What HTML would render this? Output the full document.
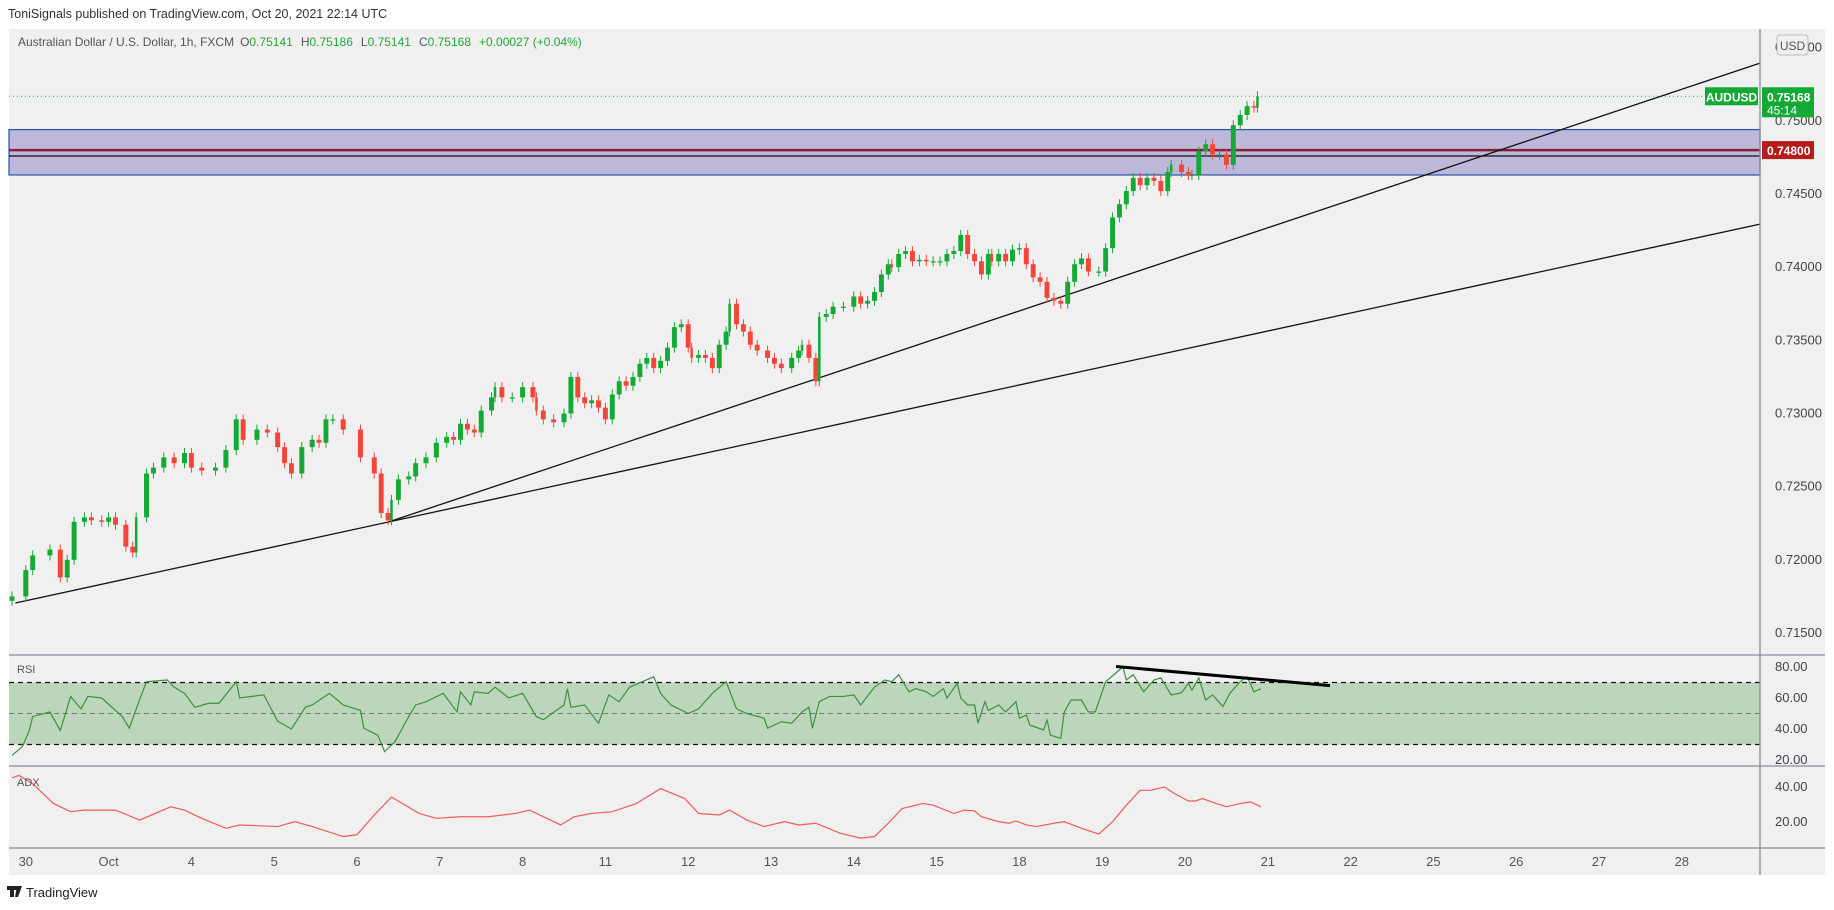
<!DOCTYPE html>
<html><head><meta charset="utf-8">
<style>
body{margin:0;background:#fff;width:1834px;height:910px;overflow:hidden;font-family:"Liberation Sans",sans-serif}
svg{position:absolute;left:0;top:0}
</style></head>
<body>
<svg id="c" width="1834" height="910" xmlns="http://www.w3.org/2000/svg">
<text x="8" y="18" font-size="12.5" fill="#333">ToniSignals published on TradingView.com, Oct 20, 2021 22:14 UTC</text>
<rect x="9" y="29" width="1816" height="846" fill="#f0f0f0"/>
<g id="band"></g>
<g id="trend"></g>
<g id="candles"></g>
<g id="rsi"></g>
<g id="adx"></g>
<g id="axes"></g>
<text x="18" y="46" font-size="12" fill="#555">Australian Dollar / U.S. Dollar, 1h, FXCM<tspan dx="6" fill="#555">O</tspan><tspan fill="#22a838">0.75141</tspan><tspan dx="8" fill="#555">H</tspan><tspan fill="#22a838">0.75186</tspan><tspan dx="8" fill="#555">L</tspan><tspan fill="#22a838">0.75141</tspan><tspan dx="8" fill="#555">C</tspan><tspan fill="#22a838">0.75168</tspan><tspan dx="8" fill="#22a838">+0.00027 (+0.04%)</tspan></text>
<text x="17" y="673" font-size="11" fill="#555">RSI</text>
<text x="17" y="786" font-size="11" fill="#555">ADX</text>
<g><rect x="7" y="886" width="10" height="4" fill="#222"/><rect x="10" y="886" width="4" height="11" fill="#222"/><polygon points="17,886 22,886 18,897 15,897" fill="#222"/><text x="26" y="897" font-size="13" fill="#222">TradingView</text></g>
</svg>
<script>
const priceHours=[0,4,6,11,14,16,18,21,23,26,28,30,33,35,36,39,41,44,47,50,52,55,59,62,65,67,71,74,77,79,81,84,87,89,91,93,96,101,105,107,109,110,112,115,117,120,123,126,128,130,132,134,136,139,140,142,145,148,151,152,154,157,160,162,164,166,168,170,172,174,176,178,180,182,184,186,188,190,192,194,196,197,199,201,203,205,207,208,210,212,214,216,219,221,223,226,228,229,231,233,234,236,238,241,244,246,248,250,252,254,255,257,259,261,263,265,267,269,271,273,275,277,279,281,283,284,286,288,290,292,294,296,298,300,302,304,306,308,310,312,315,317,319,321,323,325,327,329,331,333,335,336,339,341,342,344,346,348,350,352,354,356,358,360,361];
const priceClose=[.7175,.7193,.7203,.7207,.7188,.7200,.7226,.7229,.7227,.7226,.7229,.7224,.7209,.7205,.7229,.7259,.7263,.7270,.7266,.7273,.7263,.7261,.7263,.7275,.7296,.7282,.7289,.7287,.7277,.7266,.7259,.7277,.7282,.7280,.7296,.7296,.7289,.7270,.7259,.7232,.7227,.7241,.7255,.7257,.7266,.7270,.7280,.7284,.7282,.7293,.7289,.7287,.7302,.7311,.7318,.7311,.7311,.7318,.7311,.7302,.7296,.7294,.7300,.7325,.7311,.7307,.7309,.7304,.7296,.7313,.7322,.7319,.7325,.7334,.7338,.7331,.7336,.7345,.7359,.7361,.7345,.7338,.7340,.7338,.7331,.7347,.7356,.7375,.7361,.7356,.7347,.7343,.7338,.7334,.7331,.7338,.7343,.7347,.7338,.7322,.7366,.7368,.7373,.7373,.7380,.7375,.7377,.7383,.7395,.7402,.7400,.7409,.7411,.7404,.7405,.7404,.7404,.7404,.7409,.7411,.7422,.7409,.7404,.7395,.7409,.7404,.7409,.7404,.7412,.7413,.7402,.7393,.7390,.7379,.7377,.7375,.7390,.7402,.7406,.7397,.7397,.7413,.7434,.7443,.7452,.7461,.7456,.7461,.7459,.7452,.7465,.7470,.7465,.7463,.7463,.7479,.7484,.7477,.7477,.7470,.7497,.7504,.7510,.7509,.75168];
const rsiHours=[0,3,5,6,11,14,17,20,22,26,32,34,37,39,45,47,50,53,57,60,65,66,73,77,81,85,87,92,96,101,102,106,108,111,115,117,120,125,129,130,133,134,138,140,144,148,152,154,160,161,162,166,170,173,176,179,186,188,191,196,199,203,207,210,213,218,219,223,226,229,231,232,234,237,241,244,246,250,253,255,257,260,262,265,267,270,271,274,275,277,279,280,282,283,286,288,291,292,294,295,299,300,301,304,305,307,310,312,314,317,322,323,325,328,331,333,336,339,341,342,344,346,348,351,353,356,358,360,362];
const rsiValues=[23,28.6,39,48,51,39,61,53,61,60,48,40.5,59,70.5,71.6,67,63,54,56.6,56.6,70.5,60,62,45,40,54,55.5,63,55.5,52,40.5,36,25.4,31.8,48,55.5,57.6,63,51,64,55.5,64,63,67,60,63,48,46,55.5,66,54,55.5,43.7,62,57.6,67,73.7,63,55.5,50,53,63,70.5,53,50,47,40.5,44.7,43.7,51,54,40.5,57.6,61,61,62,55.5,67,71.6,70.5,75,64,66,64,61,66,60,69.5,60,55.5,55.5,43.7,57.6,52,55.5,51,57.6,47,49,42.6,39.4,45.8,36,34,51,58.7,58.7,51,51,70.5,80,71.6,75,64,71.6,73,62,63.4,69.5,65,73,58.7,62,54.4,63,70.5,73.7,64,66];
const adxHours=[0,2,6,12,17,21,30,37,46,50,55,62,66,77,82,87,96,100,105,110,118,123,130,138,146,150,159,163,168,174,181,188,195,199,205,208,213,218,224,228,233,240,246,250,254,258,264,267,273,276,279,281,286,289,291,294,297,302,305,310,315,319,323,327,330,334,337,341,343,345,349,352,356,359,362];
const adxValues=[45.2,46.6,41.9,30.6,25.9,26.8,26.8,21.1,28.7,26.8,22.1,16.4,18.3,17.4,20.2,17.4,11.7,12.7,24.0,34.3,24.9,22.1,23.0,23.0,24.9,26.8,18.3,23.0,24.9,25.9,30.6,39.1,33.4,24.9,24.0,26.8,21.1,17.4,20.2,18.3,19.3,13.6,10.8,11.7,19.3,27.7,30.6,29.6,24.9,26.8,26.3,23.0,20.2,19.3,20.6,18.3,17.4,19.3,20.2,16.4,13.1,20.2,29.6,38.1,38.1,40.0,36.2,32.0,32.0,33.4,30.6,28.7,30.6,31.5,28.7];
const priceTicks=[0.755,0.750,0.745,0.740,0.735,0.730,0.725,0.720,0.715];
const dayLabels=["30","Oct","4","5","6","7","8","11","12","13","14","15","18","19","20","21","22","25","26","27","28"];
const zoneTop=0.7494, zoneBottom=0.7463, resistance=0.7480, resistance2=0.7477, lastPrice=0.75168;
const trendA=[[1,0.71705],[109,0.72258]];
const trendB=[[109,0.72258],[304,0.73796]];
const rsiDiv=[[320,80.3],[382,68]];

const NS="http://www.w3.org/2000/svg";
const L=9,R=1760;
const X=h=>12+h*3.45;
const Y=p=>194+(0.745-p)*14633;
const RY=v=>713.5-(v-50)*1.55;
const AY=v=>787-(v-40)*1.75;
function el(tag,attrs,parent,name,inter){const e=document.createElementNS(NS,tag);for(const k in attrs)e.setAttribute(k,attrs[k]);


parent.appendChild(e);return e;}
const g=id=>document.getElementById(id);

const band=g('band');
el('rect',{x:L,y:Y(zoneTop),width:R-L,height:Y(zoneBottom)-Y(zoneTop),fill:'#bdb7d9',stroke:'#2a52a8','stroke-width':1.2},band,'zone-rect','true');
el('line',{x1:L,x2:R,y1:Y(resistance),y2:Y(resistance),stroke:'#8a1c3c','stroke-width':2.5},band,'resistance-line','true');
el('line',{x1:L,x2:R,y1:Y(resistance2)+1.5,y2:Y(resistance2)+1.5,stroke:'#111','stroke-width':1.3},band,'resistance-line-2','true');
el('line',{x1:L,x2:R,y1:Y(lastPrice),y2:Y(lastPrice),stroke:'#22a838','stroke-width':1,'stroke-dasharray':'1 3'},band,'last-price-line','false');

const tr=g('trend');
function ext(a,name){const x1=X(a[0][0]),y1=Y(a[0][1]),x2=X(a[1][0]),y2=Y(a[1][1]);const s=(y2-y1)/(x2-x1);
el('line',{x1:x1,y1:y1,x2:R,y2:y1+s*(R-x1),stroke:'#111','stroke-width':1.3},tr,name,'true');}
ext(trendA,'trendline-lower');ext(trendB,'trendline-upper');

const cg=g('candles');
for(let i=0;i<priceClose.length;i++){
 const c=priceClose[i],o=i?priceClose[i-1]:c-0.0003;
 const up=c>=o,col=up?'#13a935':'#f4453b';
 const x=X(priceHours[i]);
 const gap=i?priceHours[i]-priceHours[i-1]:2;
 const w=Math.max(2.5,Math.min(5,gap*3.45-2));
 const yt=Y(Math.max(o,c)),yb=Y(Math.min(o,c));
 el('line',{x1:x,x2:x,y1:yt-5,y2:yb+5,stroke:col,'stroke-width':1},cg,'candle-wick','false');
 el('rect',{x:x-w/2,y:yt,width:w,height:Math.max(1.2,yb-yt),fill:col},cg,'candle-body','false');
}

const rg=g('rsi');
el('rect',{x:L,y:RY(70),width:R-L,height:RY(30)-RY(70),fill:'#bcd6bc'},rg,'rsi-band','false');
[70,30].forEach(v=>el('line',{x1:L,x2:R,y1:RY(v),y2:RY(v),stroke:'#111','stroke-dasharray':'5 4','stroke-width':1.2},rg,'rsi-bound-'+v,'false'));
el('line',{x1:L,x2:R,y1:RY(50),y2:RY(50),stroke:'#777','stroke-dasharray':'5 4','stroke-width':1},rg,'rsi-mid','false');
el('polyline',{points:rsiValues.map((v,i)=>X(rsiHours[i])+','+RY(v)).join(' '),fill:'none',stroke:'#3f8f3f','stroke-width':1.2},rg,'rsi-line','false');
el('line',{x1:X(rsiDiv[0][0]),y1:RY(rsiDiv[0][1]),x2:X(rsiDiv[1][0]),y2:RY(rsiDiv[1][1]),stroke:'#000','stroke-width':3},rg,'rsi-divergence-line','true');

const ag=g('adx');
el('polyline',{points:adxValues.map((v,i)=>X(adxHours[i])+','+AY(v)).join(' '),fill:'none',stroke:'#f25a5a','stroke-width':1.2},ag,'adx-line','false');

const ax=g('axes');
el('rect',{x:1825,y:29,width:9,height:846,fill:'#fff'},ax,'right-margin','false');
el('line',{x1:R,x2:R,y1:29,y2:875,stroke:'#8a8a96','stroke-width':1.3},ax,'price-axis-border','false');
[655,766,848].forEach(y=>el('line',{x1:L,x2:1825,y1:y,y2:y,stroke:'#8a8a96','stroke-width':1.3},ax,'pane-separator','false'));
priceTicks.forEach(p=>{const t=el('text',{x:1775,y:Y(p)+4,'font-size':13,fill:'#444'},ax,'price-tick','false');t.textContent=p.toFixed(5);});
[80,60,40,20].forEach(v=>{const t=el('text',{x:1775,y:RY(v)+4,'font-size':13,fill:'#444'},ax,'rsi-tick','false');t.textContent=v.toFixed(2);});
[40,20].forEach(v=>{const t=el('text',{x:1775,y:AY(v)+4,'font-size':13,fill:'#444'},ax,'adx-tick','false');t.textContent=v.toFixed(2);});
dayLabels.forEach((d,i)=>{const t=el('text',{x:X(4+24*i),y:866,'font-size':13,fill:'#555','text-anchor':'middle'},ax,'time-tick','false');t.textContent=d;});
el('rect',{x:1777,y:35,width:31,height:20,rx:3,fill:'#f0f0f0',stroke:'#bbb'},ax,'currency-box','true');
const usd=el('text',{x:1792.5,y:50,'font-size':12,fill:'#555','text-anchor':'middle'},ax,'currency-label','false');usd.textContent='USD';
el('rect',{x:1705,y:Y(lastPrice)-9,width:53,height:18,fill:'#13a935'},ax,'symbol-label-box','false');
const sl=el('text',{x:1731.5,y:Y(lastPrice)+5,'font-size':12,'font-weight':'bold',fill:'#fff','text-anchor':'middle'},ax,'symbol-label','false');sl.textContent='AUDUSD';
el('rect',{x:1762,y:Y(lastPrice)-9,width:52,height:30,fill:'#13a935'},ax,'last-price-box','false');
const lp=el('text',{x:1767,y:Y(lastPrice)+5,'font-size':12,'font-weight':'bold',fill:'#fff'},ax,'last-price-label','false');lp.textContent=lastPrice.toFixed(5);
const cd=el('text',{x:1767,y:Y(lastPrice)+18,'font-size':12,fill:'#fff'},ax,'countdown-label','false');cd.textContent='45:14';
el('rect',{x:1762,y:Y(resistance)-9,width:52,height:18,fill:'#b71c1c'},ax,'resistance-price-box','false');
const rl=el('text',{x:1767,y:Y(resistance)+5,'font-size':12,'font-weight':'bold',fill:'#fff'},ax,'resistance-price-label','false');rl.textContent=resistance.toFixed(5);
</script>
</body></html>
